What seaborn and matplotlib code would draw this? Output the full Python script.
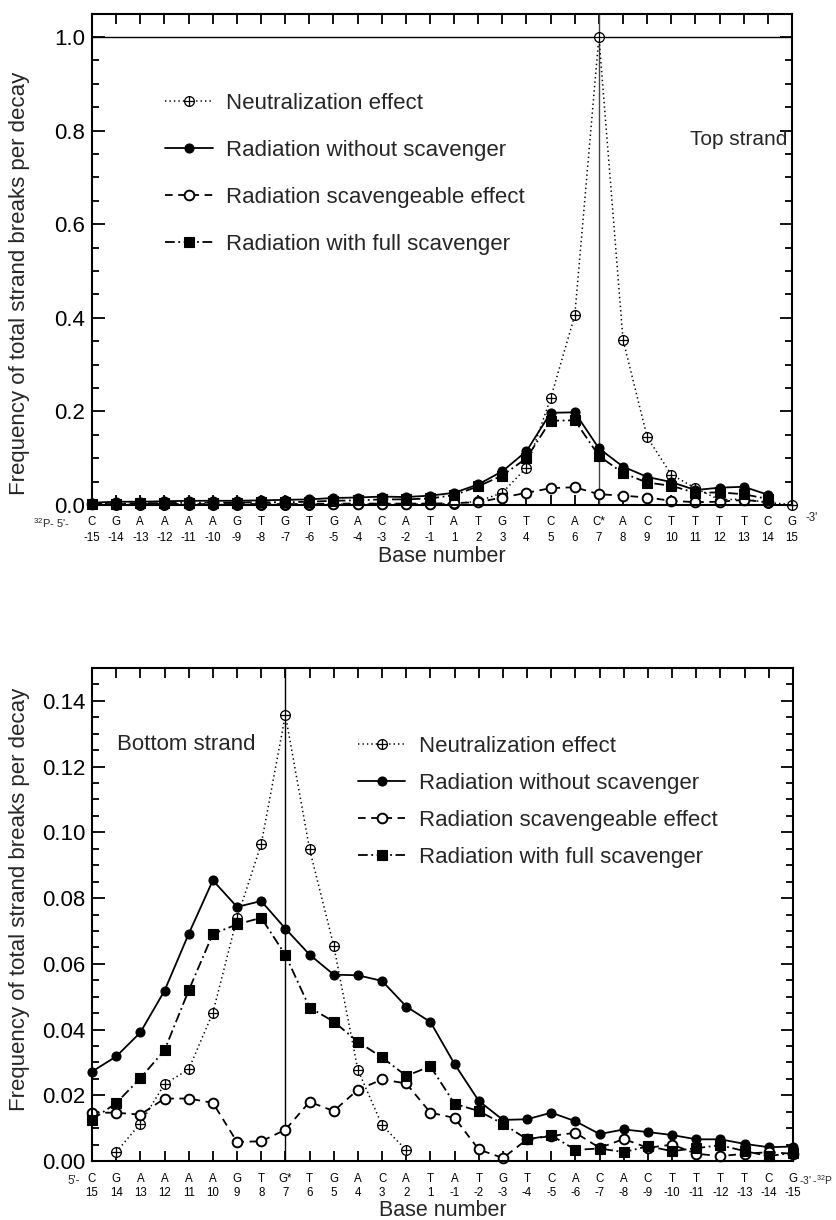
import numpy as np
import matplotlib
matplotlib.use("Agg")
import matplotlib.pyplot as plt
import seaborn as sns
from matplotlib.path import Path
from matplotlib.ticker import MultipleLocator, FormatStrFormatter

nan = np.nan

# ---------------- data ----------------
top_bases = ["C", "G", "A", "A", "A", "A", "G", "T", "G", "T", "G", "A", "C", "A", "T",
             "A", "T", "G", "T", "C", "A", "C*", "A", "C", "T", "T", "T", "T", "C", "G"]
top_numbers = ["-15", "-14", "-13", "-12", "-11", "-10", "-9", "-8", "-7", "-6", "-5", "-4", "-3", "-2", "-1",
               "1", "2", "3", "4", "5", "6", "7", "8", "9", "10", "11", "12", "13", "14", "15"]

bottom_bases = ["C", "G", "A", "A", "A", "A", "G", "T", "G*", "T", "G", "A", "C", "A", "T",
                "A", "T", "G", "T", "C", "A", "C", "A", "C", "T", "T", "T", "T", "C", "G"]
bottom_numbers = ["15", "14", "13", "12", "11", "10", "9", "8", "7", "6", "5", "4", "3", "2", "1",
                  "-1", "-2", "-3", "-4", "-5", "-6", "-7", "-8", "-9", "-10", "-11", "-12", "-13", "-14", "-15"]

series_labels = ["Neutralization effect", "Radiation without scavenger",
                 "Radiation scavengeable effect", "Radiation with full scavenger"]

top_neutral = [0.002, 0.001, 0.001, 0.001, 0.001, 0.001, 0.001, 0.001, 0.001, 0.001,
               0.002, 0.002, 0.002, 0.002, 0.002, 0.003, 0.008, 0.026, 0.080, 0.228,
               0.405, 1.000, 0.353, 0.145, 0.065, 0.036, 0.011, 0.013, 0.005, 0.001]
top_without = [0.005, 0.007, 0.007, 0.008, 0.009, 0.009, 0.009, 0.010, 0.011, 0.012,
               0.015, 0.016, 0.018, 0.017, 0.020, 0.026, 0.044, 0.072, 0.115, 0.197,
               0.198, 0.121, 0.082, 0.060, 0.049, 0.032, 0.037, 0.039, 0.022, nan]
top_scavengeable = [0.002, 0.002, 0.002, 0.002, 0.002, 0.002, 0.002, 0.002, 0.002, 0.002,
                    0.003, 0.003, 0.003, 0.003, 0.003, 0.004, 0.006, 0.016, 0.026, 0.036,
                    0.038, 0.023, 0.020, 0.016, 0.009, 0.006, 0.007, 0.011, 0.006, nan]
top_full = [0.003, 0.003, 0.004, 0.004, 0.005, 0.005, 0.005, 0.006, 0.006, 0.007,
            0.009, 0.010, 0.012, 0.012, 0.014, 0.021, 0.040, 0.063, 0.100, 0.180,
            0.181, 0.105, 0.068, 0.048, 0.041, 0.026, 0.027, 0.023, 0.013, nan]

bottom_neutral = [nan, 0.0027, 0.0114, 0.0234, 0.0279, 0.0451, 0.0739, 0.0964, 0.1357, 0.0949,
                  0.0655, 0.0277, 0.0109, 0.0033, nan, nan, nan, nan, nan, nan,
                  nan, nan, nan, nan, nan, nan, nan, nan, nan, nan]
bottom_without = [0.0272, 0.0318, 0.0391, 0.0518, 0.0691, 0.0854, 0.0773, 0.0791, 0.0707, 0.0628,
                  0.0567, 0.0565, 0.0548, 0.0470, 0.0423, 0.0295, 0.0183, 0.0125, 0.0127, 0.0147,
                  0.0121, 0.0082, 0.0096, 0.0088, 0.0079, 0.0066, 0.0066, 0.0052, 0.0042, 0.0044]
bottom_scavengeable = [0.0147, 0.0147, 0.0141, 0.0190, 0.0190, 0.0177, 0.0058, 0.0060, 0.0095, 0.0180,
                       0.0152, 0.0217, 0.0248, 0.0236, 0.0147, 0.0131, 0.0035, 0.0009, 0.0066, 0.0076,
                       0.0086, 0.0040, 0.0067, 0.0040, 0.0050, 0.0022, 0.0015, 0.0022, 0.0027, 0.0022]
bottom_full = [0.0126, 0.0176, 0.0252, 0.0337, 0.0519, 0.0691, 0.0720, 0.0740, 0.0627, 0.0467,
               0.0424, 0.0363, 0.0315, 0.0259, 0.0288, 0.0174, 0.0152, 0.0113, 0.0066, 0.0078,
               0.0034, 0.0038, 0.0027, 0.0045, 0.0030, 0.0039, 0.0048, 0.0030, 0.0015, 0.0025]

# ---------------- style ----------------
sns.set_theme(style="ticks")
plt.rcParams["font.family"] = ["Liberation Sans", "DejaVu Sans"]
plt.rcParams["mathtext.fontset"] = "custom"
plt.rcParams["mathtext.rm"] = "Liberation Sans"
plt.rcParams["lines.scale_dashes"] = False
plt.rcParams["axes.edgecolor"] = "black"
plt.rcParams["xtick.color"] = "black"
plt.rcParams["ytick.color"] = "black"

oplus = Path.make_compound_path(
    Path.unit_circle(),
    Path([[-1, 0], [1, 0]], [Path.MOVETO, Path.LINETO]),
    Path([[0, -1], [0, 1]], [Path.MOVETO, Path.LINETO]),
)

styles = [
    dict(linestyle=(0, (1.0, 2.2)), linewidth=1.1, marker=oplus, markersize=7,
         markerfacecolor="white", markeredgecolor="black", markeredgewidth=0.9),
    dict(linestyle="-", linewidth=1.3, marker="o", markersize=6.5,
         markerfacecolor="black", markeredgecolor="black", markeredgewidth=0.8),
    dict(linestyle=(0, (5.5, 4.0)), linewidth=1.3, marker="o", markersize=7,
         markerfacecolor="white", markeredgecolor="black", markeredgewidth=1.4),
    dict(linestyle=(0, (7.0, 2.6, 1.3, 2.6)), linewidth=1.3, marker="s", markersize=7,
         markerfacecolor="black", markeredgecolor="black", markeredgewidth=0.8),
]

W, H = 836, 1220
fig = plt.figure(figsize=(W / 100, H / 100), dpi=100)
ax_top = fig.add_axes([92 / W, 1 - 505 / H, 700 / W, 491.4 / H])
ax_bot = fig.add_axes([92 / W, 1 - 1161 / H, 701 / W, 493 / H])

pos = np.arange(len(top_bases))


def draw(ax, series, bases, numbers, ymax, major, minor, fmt, xpad, lsp):
    for label, vals, st in zip(series_labels, series, styles):
        sns.lineplot(x=pos, y=np.array(vals, dtype=float), ax=ax, label=label,
                     estimator=None, sort=False, color="black", clip_on=False, **st)
    ax.set_xlim(0, len(bases) - 1)
    ax.set_ylim(0, ymax)
    ax.set_xticks(pos)
    ax.set_xticklabels([f"{b}\n{n}" for b, n in zip(bases, numbers)],
                       fontsize=8.3, linespacing=lsp)
    ax.yaxis.set_major_locator(MultipleLocator(major))
    ax.yaxis.set_minor_locator(MultipleLocator(minor))
    ax.yaxis.set_major_formatter(FormatStrFormatter(fmt))
    ax.tick_params(axis="x", which="major", direction="in", length=7.5, width=1.3,
                   top=True, bottom=True, pad=xpad)
    ax.tick_params(axis="x", which="minor", bottom=False, top=False)
    ax.tick_params(axis="y", which="major", direction="in", length=9, width=1.3,
                   left=True, right=True, labelsize=16, pad=5)
    ax.tick_params(axis="y", which="minor", direction="in", length=5, width=1.3,
                   left=True, right=True)
    for sp in ax.spines.values():
        sp.set_visible(True)
        sp.set_linewidth(1.5)
        sp.set_color("black")
    ax.set_xlabel("Base number", fontsize=15.5)
    ax.set_ylabel("Frequency of total strand breaks per decay", fontsize=16)


draw(ax_top, [top_neutral, top_without, top_scavengeable, top_full],
     top_bases, top_numbers, 1.05, 0.2, 0.05, "%.1f", 8.0, 1.38)
draw(ax_bot, [bottom_neutral, bottom_without, bottom_scavengeable, bottom_full],
     bottom_bases, bottom_numbers, 0.15, 0.02, 0.005, "%.2f", 8.5, 1.25)

# reference lines
ax_top.axvline(top_bases.index("C*"), color="#444444", lw=1.0, zorder=1)
ax_top.axhline(1.0, color="black", lw=1.0, zorder=1)
ax_bot.axvline(bottom_bases.index("G*"), color="black", lw=1.0, zorder=1)

# axis label placement
ax_top.yaxis.set_label_coords(-0.089, 0.452)
ax_bot.yaxis.set_label_coords(-0.089, 0.53)
ax_top.xaxis.set_label_coords(0.5, -0.083)
ax_bot.xaxis.set_label_coords(0.5, -0.080)

# legends
ax_top.legend(loc="upper left", bbox_to_anchor=(0.104, 0.838), frameon=False,
              fontsize=16, handlelength=2.15, handletextpad=0.6, labelspacing=1.16,
              borderpad=0, borderaxespad=0, numpoints=1)
ax_bot.legend(loc="upper left", bbox_to_anchor=(0.379, 0.862), frameon=False,
              fontsize=16, handlelength=2.15, handletextpad=0.6, labelspacing=0.72,
              borderpad=0, borderaxespad=0, numpoints=1)

# panel annotations
ax_top.text(0.994, 0.743, "Top strand", transform=ax_top.transAxes,
            ha="right", va="center", fontsize=15)
ax_bot.text(0.036, 0.845, "Bottom strand", transform=ax_bot.transAxes,
            ha="left", va="center", fontsize=16)

# strand end labels
fig.text(70 / W, 1 - 523 / H, r"$^{32}$P- 5'-", ha="right", va="center", fontsize=8.0)
fig.text(805 / W, 1 - 518 / H, "-3'", ha="left", va="center", fontsize=8.3)
fig.text(80 / W, 1 - 1181 / H, "5'-", ha="right", va="center", fontsize=8.3)
fig.text(799 / W, 1 - 1180 / H, r"-3' -$^{32}$P", ha="left", va="center", fontsize=7.4)

fig.savefig("out.png", dpi=100)
